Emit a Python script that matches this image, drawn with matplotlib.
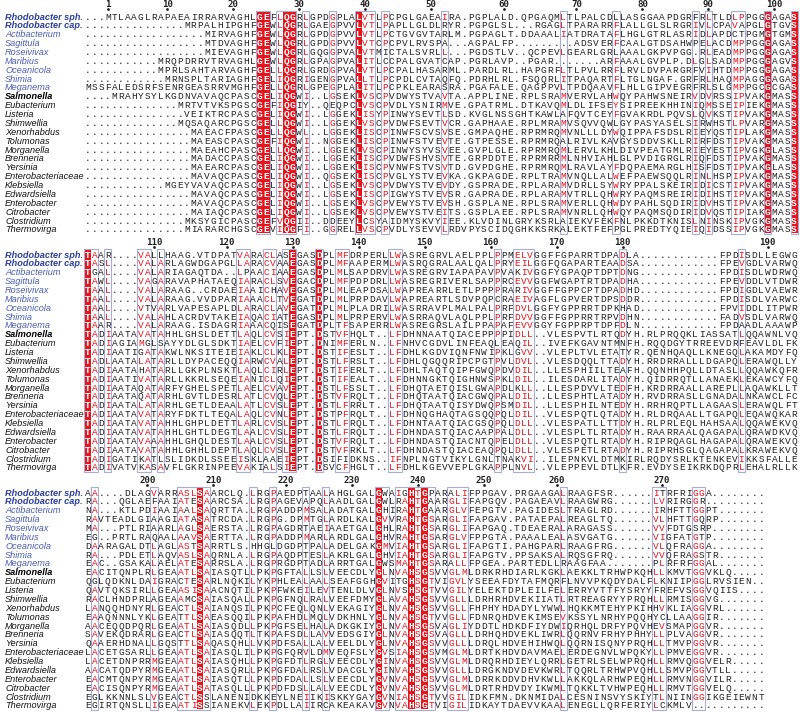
import matplotlib
matplotlib.use("Agg")
import matplotlib.pyplot as plt
from matplotlib.patches import Rectangle
from collections import Counter

names = ["Rhodobacter sph.", "Rhodobacter cap.", "Actibacterium", "Sagittula", "Roseivivax",
         "Maribius", "Oceanicola", "Shimia", "Meganema", "Salmonella", "Eubacterium",
         "Listeria", "Shimwellia", "Xenorhabdus", "Tolumonas", "Morganella", "Brenneria",
         "Yersinia", "Enterobacteriaceae", "Klebsiella", "Edwardsiella", "Enterobacter",
         "Citrobacter", "Clostridium", "Thermovirga"]

# alignment, block 1 (columns shown in the top panel)
block1 = [
    "...MTLAAGLRAPAEAIRRARVAGHLGEFLQGRLGPDGPLALVTLPCPGLGAEA" + "IRA.PGPLALD.QPGAQMLTLPALCDLLASGGAAPDGRFRLTLDLPPGGGAGAS",
    "." * 15 + "MRPALHIPGHFGEWLQGRLGAEGPVVLVTLPAPLLGLDL" + "RYR.PGPGLSL...RGAGLTPARARRFLALLGLSLRGRIVLCPAVAPGLGTGVS",
    "." * 18 + "MIRVAGHFGEWLQGRLGPDGPVVLVTLPCTGVGVTA" + "RLM.PGPAGLT.DDAAALIATDRATAFLHGLGTRLASRIDLAPDCTPGMGTGMS",
    "." * 18 + "MTDVAGHFGEWLQGRLGPDGPVVLVTCPCPVLRVSP" + "A...AGPALFP" + "." * 9 + "ADSVERFCAALGTDSAHWPELACDMPPGGGAGAS",
    "." * 18 + "MIEVAGHFGEWLQGRLGQGGPVALVTMICTALSVRL" + "L...PGDSTLV..QCPEVLGEARLGRLAAALGKPVPGG.RLEADMPPGGGAGAS",
    "." * 11 + "MRQPDRRVTRVAGHLGEWLQGRLGPAGPVALITLCCPALGVAT" + "CAP.PGRLAVP..PGAR" + "." * 7 + "ARFAAALGVPLP.DLGLSADMPPGGGAGVS",
    "." * 11 + "MPRLSAHTARVAGHFGELLQGRLGRDGPVALVTLPCPALHASA" + "RML.PARDLRL.HAPGRFLTLPVLRRFLRVLDVPARGRFVIHTDMPPGGGAGAS",
    "." * 12 + "MRNSPLTARIAGHFGELIQGRIGENGPVALLTLPCPDLCVTA" + "QFQ.PDRHLRL.FSQQRLITPAQARTFLTGLNGAF.GRFRLHAQMPAGGGAGAS",
    "MSSFALEDSRFSENRGEASRRVMGHFGELLQGRLGPEGPLALITLPCPKLEARA" + "SRA.PGAFALE.QAGPPVLTPDQAAVFLHLLGIPVEGRFRLSLGMPPGCGCGAS",
    "...." + "MRAHYSYLKGDNVAVAQCPASCGELIQGWI..LGSEKLVSCPVDWYSTVA" + "VTA.APPLINE.RPLSRAMVERVLAHWQYPAHWSNEIRVDVRSSIPVAKGMASS",
    "." * 14 + "MRTVTVKSPGSCGEFIQGIY..QEQPCLVSCPVDLYSNIR" + "MVE.GPATRML.DTKAVQMLDLIFSEYSIPREEKHHINIQMSSEIPIEKGMASS",
    "." * 15 + "VEIKTRCPASCGELIQGWI..LGGEKLISYPINWYSEVT" + "LSD.KVGLNSSGHTKAWLAFQVTCEYFGVAKRDLPQVSLQVKSTIPVAKGMASS",
    "." * 14 + "MQSAQARCPGSCGELLQGWI..LGGEKLVSCPVDWFSEVT" + "VCR.GAPHAAE.RPLMRAMVSQVVQWLGYPASYASELSIRWHSTLPVARGMASS",
    "." * 16 + "MAEACFPASCGELLQGWL..LGGEKLISCPINWFSCVS" + "VSE.GMPAQHE.RPRMRQMVNLLLDYWQIPPAFSDSLRIEYQSTIPLAKGMASS",
    "." * 16 + "MAEASCPASCGEFIQGWI..NGGEKLISCPINWFSTVE" + "VTE.GTPESSE.RPRMRQALRIVLKAVGYSDDVSKLLRIRFDSTIPVAKGMASS",
    "." * 16 + "MAEAHCPASCGELLQGWI..LGGEKLVSCPINWYSYVS" + "VEE.GVPLGLE.RPRMRQMLERVLKHLDIVPEATGMLRIEYESTIPVGKGLASS",
    "." * 16 + "MADACCPASCGELIQGWI..LGGEKLISCPVDWFSHVS" + "VTE.GRPDDTE.RPRMRRMLNHVIAHLGLPVDIGRGLRIQFDSTIPVAKGMASS",
    "." * 16 + "MAEARCPASCGELIQGWI..LGGEKLISCPVNWFSTVS" + "VTD.GVPDGHE.RPRMRQMLRAVLAYFDQPAEMARGLHISFDSTIPVAKGLASS",
    "." * 16 + "MAVAQCPASCGELIQGWI..QGSEKLISCPVGLYSTVE" + "VKA.GKPAGDE.RPLTRAMVNQLLALWEFPAEWSQQLRINLHSPIPVAKGMASS",
    "." * 12 + "MGEYVAVAQCPASCGELIQGWI..LGSEKLVSCPVDWYSTVE" + "VDY.GSPRADE.RPLARAMVDRLLSYWRYPPALSKEIRIDICSTIPVAKGMASS",
    "." * 16 + "MAVAQCPASCGELIQGWI..LGSEKLISCPIGWYSTVE" + "VSR.GAPRADE.RPLARAMVTRLLQHWRYPAQMSREIRIDIHSTIPVAKGMASS",
    "." * 16 + "MAVAQCPASCGELIQGWI..LGSEKLVSCPVEWYSTVE" + "VSH.GSPLANE.RPLSRAMVERLLQHWDYPAHLSQDIRIDVHSTIPVAKGMASS",
    "." * 16 + "MAIAQCPASCGELIQGWI..LGSEKLVSCPVEWYSTVE" + "ITS.GSPLAEE.RPLSRAMVNRLLQHWQYPAQMSQDIRIDVQSTIPIAKGMASS",
    "." * 15 + "MKSYGICPASCGEFVQGII..DDEEYLCSYAIDMYSKVY" + "IEE.KLVDINLGRYKSRLAIEKVFEKFNLPKKDTKNISLNINSKIPVGKGMASS",
    "." * 15 + "MIARARCHGSCGEVIQGFI..GGRELLVSCPVDLYSEVV" + "LRDVPYSCIDQGHKKSRKALEKTFEFPGLPREDTYQIEIQIDSSIPVGKGMASS",
]

# alignment, block 2 (middle panel)
block2 = [
    "TAAR....VALLHAAG.VTDPATVARACLASEGASDPLMFDRPERLLWASREGR" + "VLAELPPLPPMELVGGFFGPARRTDPADLA" + "." * 12 + "FPDISDLLEGWG",
    "TASL....VALARLAGWDGAPGLLARACVAAEGASDPLMFAAPERMLWASRQGR" + "ALAALQALPRYEILGGFQGAPARTEAADSA" + "." * 12 + "FPEVGDLVARWQ",
    "TGAL....VALARIAGAQTDA..LPAACIAAEGASDPLMLSAPDRVLWASREGR" + "VIAPAPAVPVAKIVGGFYGPAQPTDPTDNG" + "." * 12 + "FPDISDLWDRWQ",
    "TAWL....VAGARAVAPHATAEQIARACLSVEGACDPLMFPDPDRLLWASREGR" + "IVERLSAPPRCEVVGGFWGAPTRTDPADHA" + "." * 12 + "FPEVDDLVTDWR",
    "TAAL....VALARAAG..CRDAEIAAICHAVEGASDPLMLEAPDSALWAPREAR" + "RLETLPPPPRARIVGGFFGPPCPTDPADHD" + "." * 12 + "FPDIGDLVAEWR",
    "TAAL....VALARAAG.VVDPARIAAACLTVEGATDPLMLPRPDAVLWAPREAR" + "TLSDVPQPCRAEIVAGFLGPVERTDPSDDR" + "." * 12 + "FPDISDLVARWC",
    "TAAL....VTVARLVAPESAPLDLARACLAVEGATDPLMLPLADRILWASRRAV" + "PLMALPALPRFDVLGGFYGPPRRTDPKHAD" + "." * 12 + "FPVIDDLITPWR",
    "TAAL....VALAHLACRDVTAKEIAQACIATEGASDPLMLPRPERVLWASRRAQ" + "VLAQLPPLPRFDVVGGFFGPPRRTRPVDHN" + "." * 12 + "FADVSDLVARWQ",
    "TAAR....VALARAAG.ISDAGRIAAACQISEGATDPLTFSAPERRLWASREGR" + "SLAILPPAPAFEVVGGYFGPPRPTDPFDLN" + "." * 12 + "FPDAADLAAAWP",
    "TADIAATAVATAHHLGHSLDETTLAQLCVSIEPT.DSTVFHQLT..LFDHNNAA" + "TQIACEPPPPIDLL..VLESPVTLRTQDYH.RLPRQQKLIASSATLQQAWNLVQ",
    "TADIAGIAMGLSAYYDLGLSDKTIAELCVFIEPT.DNIMFERLN..LFNHVCGD" + "VLINFEAQLEAQIL..IVEFKGAVNTMNFH.RQQDGYTRREEVDRFEAVLDLFK",
    "TADIAATIGATAKWLNKSITEIEIAKLCLKLEPT.DSTIFESLT..LFDHLKGD" + "VIQNFNWIPKLGVV..VLEPLTVLETATYR.QENHQAQLLKNEGQLAKAMDYFQ",
    "TADLAATALATARLLDYPACEQQIARWCVALEPT.DSTLFRSLT..LFDHLQGQ" + "QRIPCPGTPVLDVL..VLESDQQLTTADYH.RRDRRALLLDGAPQLERAWQLLY",
    "TADIAATAHATARLLGKPLNSKTLAQLCIRLEPT.DSTIFERLT..LFDHLTAQ" + "TQIPFGWQPDVDIL..LLESPHIILTEAFH.QQNHHPQLLDTASLLQQAWKQFR",
    "TADIAATIVATARLLKKRLSEQEIANICLQIEPT.DSTIFEALT..LFDHNNGK" + "TQIGHNWSPKLDIL..ILESDARLITADYH.QIDRRQTLLANAEKLEKAWCYFQ",
    "TADIAATAQATARFYGHELSPETLAELCVAVEPT.DSTLFSSLT..LFDHQTAE" + "TQISLGWAPDLKLL..LLESPDVVLTEDFH.KRDRRAALLAREPLLAQAWKLLT",
    "TADIAATAQATARHLGVTLDESRLATLCVQLEPT.DSTVFRQLT..LFDHQTAA" + "TQIACGWQPALDIL..LLESPHTLATADYH.RVDRRASLLGNADALNKAWCLFC",
    "TADIAATALATARHLGETLDEAALATLCVSLEPT.DSTLFRRLT..LFDHQTAA" + "TQISYDWQPSMDIL..LLESPHILNTEDYH.RRHRQPTLLAGAASLERAWQLFT",
    "TADIAATAVATARYFDKTLTEQALAQLCVNLEPT.DSTPFRQLT..LFDHNQGH" + "AQTAGSQQPQLDIL..VLESPQTLQTADYH.RLDRQAALLTGAPQLEQAWQKAR",
    "TADIAATAVATAHHLGHPLDETTLARLCVSLEPT.DSTLFRQLT..LFDHNTAA" + "TQIACGSQPQLDLL..VLESPATLLTTDYH.RLPRLEQLHAHSAALQQAWEKVQ",
    "TADIAATAVATAHHLGHTLDEGTLAALCVSLEPT.DSTLFRQLT..LFDHNDAS" + "TQIACAAPPALDLL..VLESPLTLRTADYH.RAARRAALQAGAPALQRAWDKVQ",
    "TADIAATAVAAAHHLGHQLDESTLAALCVSLEPT.DSTVFRQLT..LFDHNDAS" + "TQIACNTQPELDLL..VLESPQTLRTADYH.RIPRQAGLHAGAPALQRAWEKVQ",
    "TADIAATAVATAHHLGHHLDEPTLAQLCVSLEPT.DSTVFRKLT..LFDHNDAS" + "TQIACEAQPQLDLL..VLESPETLRTADYH.RIPRHSGLQAGAPALKRAWEKVQ",
    "TADIGATIKATLSLIDKDLSSEEISKLAAEIEPT.DSIFIDKNS..IFNPLNGT" + "VIKYLGNLTNAKVI..ILEPNKVLDTMKIRLRQDYSRLKTENKEVIKKSFALLE",
    "TADIVATVKASAVFLGKRINPEEVAKIALSIEPT.DSVCFHGLT..LFDHLKGE" + "VVEPLGKAPPLNVL..VLEPPEVLDTLKFR.EVDYSEIKRKDQPRLEHALRLLK",
]

# alignment, block 3 (bottom panel)
block3 = [
    "AA....DLAGVARRASLSAARCLQ.LRGPAEDPTAALAHGLGALGWAIGHTGPA" + "RALIFPPGAV.PRGAAGALRAAGFSR" + "." * 6 + "ITRFRIGGA" + "." * 8,
    "RA...QGLAEFAAIATESAARCSA.LRGPAGEVAPQLAADLGALGWLRAHTGAA" + "RGLIFAPGQV.PAGAEAVLRAAGWRG" + "." * 6 + "LVRIRGGR" + "." * 9,
    "NA...KTLPDIAAIAALSAQRTTA.LRGPADDPMSALADATGALGHIRAHTGAA" + "RGLVFEPGTV.PAGIDESLTRAGLRD" + "." * 6 + "IRHFTTGGPT" + "." * 7,
    "RAVTEADLGIAAGIATASATRCDA.LRGPG.DPMTGLARDLKALGVVRAHTGSA" + "RGLIFAPGAV.PATAEPALREAGLTQ" + "." * 6 + "VLHFTTGQRP" + "." * 7,
    "MA...PTLRIAARLAGLSAERSTA.LRGPAGDRTAEIAAETGALGHLRAHTGSA" + "RGLIFAPGAQ.TDEAERALARAGASS" + "." * 6 + "VVFDTGSRP" + "." * 8,
    "EG..PRTLRAQAALAAVSAERTTA.LRGPADDPMARLARDLGALGHVRAHTGSA" + "RGLVFPPGTA.PAAALEALASVGATG" + "." * 6 + "VIGFATGTP" + "." * 8,
    "DAARAGALDTLAGLASTSARRTLS.HHGLDGDPTPALADELGAKGMVIAHTGSA" + "RGLIFAPGTI.PAHGPARLRAAGFRG" + "." * 6 + "VLQFRAGGA" + "." * 8,
    "RA...PDLETLAQVASLSAQRNLA.LRGPAQDPTESLAKRLGALGHVIAHTGSA" + "RGLIFAPGTV.PPSAKSALRQSGFRQ" + "." * 6 + "VVQFRAGSTR" + "." * 7,
    "EAC..GSAKALAELATESARRSLA.LRGPRGDPTADLARRTGALGWSMAHTGSA" + "RALLFPGEA.PARTEDLLRAAGFAA" + "." * 7 + "PLRFRFGGAL" + "." * 7,
    "EACITQNPLRLGEAATLSAIASQTLLPKPGFTALLSLVEECDLYGLNVAHSGSV" + "VGLMLDRKRHDIARLKGKLAEKKLTRHWPKQHLLKMVTGGVKLQ" + "." * 5,
    "QGLQDKNLDAIGRACTESARLNQKILYKPHLEALAALSEAFGGHGVITGHSGTV" + "IGVLYSEEAFDYTAFMQRFLNVVPKQDYDALFLKNIIPGGLRVSIEN" + "." * 2,
    "QAVTQKSIRLLGEAASISAACNQTILPKPFWKEILEVTENLDLVGLNVSHSGTV" + "VGILYELEKTDPLEILFELERRYVTTFYSRYYFREFVSGGVQIIS" + "." * 4,
    "RACLHNDPRLAGEAAMCSAIASQALLPKPGFNQLRALVEEFDMYGLAVAHSGSV" + "VGLLLDRHRHDVEKIIATLRTREAGRYYPRQHLLRMISGGVG" + "." * 7,
    "LANQQHDNYRLGEACTLSAIANQSILPKPCFEQLQNLVEKAGIYGLNVAHSGSV" + "VGLLFHPHYHDADYLYWWLHQKKMTEHYPKIHHVKLIAGGVRL" + "." * 6,
    "EAAQNNNLYKLGEATTLSAEASQQILPKPAFHDLMQLVDKHNLYGLNVAHSGTV" + "VGLLFDNRQHDVEKIMSEVKSSYLNRHYPQQHYCLLAAGGIR" + "." * 7,
    "AACEQQDPQRLGEAATLSAIASQDLLPKPGFSELHALADKGKIYGLNVAHSGSV" + "AGLIYDDTLHDKDFIYDWIQRHQLDRFYPQVHEVSMAPGGVR" + "." * 7,
    "SAVEKQDRARLGEACTLSAIASQQTLTKPAFSDLLAVVEDSGIYGLNVAHSGSV" + "AGLLLDRHQHDVEKLIWRLQQRNVFRHYPHHYLLPLVAGGVR" + "." * 7,
    "QAAERHDNALLGQSTTLSAQASQHLLVKPDFSALLALVEELDLYGLNVAHSGSV" + "VGLLLDRQLHDVEHIHWQLQQRNISQNYPRQHLLTMVPGGVR" + "." * 7,
    "LACETGSARLLGEAATLSAIASQLILPKPGFQRVLDMVEQFSLYGVSIAHSGSV" + "MGLMLDRTKHDVDAVMAELERDEGNVLWPQKYLLPMVEGGVR" + "." * 7,
    "LACETDNPRRMGEAATLSAIASQHLLPKPGFDTLRGLVEECDLYGINVAHSGSV" + "VGLMLDRQRHDIEYLQRRLGETRLSELWPRQHLLRMVQGGVELR" + "." * 5,
    "AACATQDPYRMGEAATLSAIASQRLLPKPGFDALRSLVDACGLYGINVAHSGSV" + "VGLLLDRGKNDVDEVKWRLTQQRLTRHWPVQHLLSMVPGGVTLL" + "." * 5,
    "EACMTQNPYRMGEAATLSAIASQTLLPKPDFDALLSLVEECDLYGVNVAHSGSV" + "VGLMLDRRKDDVDHVKWLLAKKQLARHWPEQHLLRMVNGGVILR" + "." * 5,
    "EACISQNPYRMGEAATLSATASQLLLPKPDFDSLLALVEECDLYGVNVAHSGSV" + "VGLMLDRTRHDVDYIKWMLTQKKLTVHWPEQHLLRMVTGGVELQ" + "." * 5,
    "EGLKKNNLSLVGEACTLSSLANENIDKKEYLNEIIKISKKYGAYGVNIAHSGTV" + "VGILIDKFMN.DKNMIDALCESNINSVYSKIYTLNIINGGIKGEIEWNT",
    "EGIRTQNSLLIGEAATISSIANEKVLEKPDLLAIIRCAKEAKAVGVNVAHSGTV" + "IGILIDKAYTDAEVVKAALENEGLLQRFERIYLCKMLV" + "." * 11,
]

blocks = [block1, block2, block3]

RED = "#e3161e"
BOX = "#a7acd8"
DARK_BLUE = "#2c3e9b"
BLUE = "#4a5db5"

groups = ["ILVM", "FYW", "KR", "DE", "NQ", "ST", "A", "G", "P", "C", "H"]
group_of = {c: i for i, g in enumerate(groups) for c in g}

W, H = 800, 712
x0, cw, rh = 84.7, 6.6, 8.87
block_top = [16, 254, 492]

fig = plt.figure(figsize=(W / 100, H / 100), dpi=100)
ax = fig.add_axes([0, 0, 1, 1])
ax.set_xlim(0, W)
ax.set_ylim(H, 0)
ax.axis("off")


def column_state(col):
    res = [c for c in col if c != "."]
    if len(res) == len(col) and len(set(res)) == 1:
        return "ident", set(res)
    if not res:
        return None, set()
    g, n = Counter(group_of.get(c, -1) for c in res).most_common(1)[0]
    if g >= 0 and n / len(col) >= 0.7:
        return "sim", set(groups[g])
    return None, set()


residue_no = 0
for b, seqs in enumerate(blocks):
    top = block_top[b]
    ncol = max(len(s) for s in seqs)
    seqs = [s.ljust(ncol, ".") for s in seqs]
    nrow = len(seqs)
    y_first = top - rh / 2
    states = [column_state([s[j] for s in seqs]) for j in range(ncol)]

    # identical columns: red background
    for j, (st, _) in enumerate(states):
        if st == "ident":
            ax.add_patch(Rectangle((x0 + j * cw, y_first), cw, nrow * rh,
                                   facecolor=RED, edgecolor="none", zorder=1))
    # boxes around runs of conserved columns
    j = 0
    while j < ncol:
        if states[j][0] is None:
            j += 1
            continue
        k = j
        while k + 1 < ncol and states[k + 1][0] is not None:
            k += 1
        ax.add_patch(Rectangle((x0 + j * cw - 0.3, y_first - 0.3), (k - j + 1) * cw + 0.6,
                               nrow * rh + 0.6, fill=False, edgecolor=BOX, lw=0.8, zorder=2))
        j = k + 1

    # residues
    for i, s in enumerate(seqs):
        y = top + i * rh
        for j, c in enumerate(s):
            st, grp = states[j]
            if st == "ident":
                color, weight = "white", "bold"
            elif st == "sim" and c in grp:
                color, weight = RED, "normal"
            else:
                color, weight = "#222222", "normal"
            ax.text(x0 + (j + 0.5) * cw, y, c, ha="center", va="center_baseline",
                    fontsize=6.8, family="Liberation Mono", color=color,
                    fontweight=weight, zorder=3)

    # names
    for i, name in enumerate(names):
        y = top + i * rh
        if i < 2:
            color, weight = DARK_BLUE, "bold"
        elif i < 9:
            color, weight = BLUE, "normal"
        elif i == 9:
            color, weight = "black", "bold"
        else:
            color, weight = "#111111", "normal"
        ax.text(5, y, name, ha="left", va="center_baseline", fontsize=6.6,
                family="Liberation Sans", style="italic", fontweight=weight, color=color)

    # ruler numbered by the first sequence
    for j, c in enumerate(seqs[0]):
        if c == ".":
            continue
        residue_no += 1
        if residue_no == 1 or residue_no % 10 == 0:
            xc = x0 + (j + 0.5) * cw
            ax.text(xc, top - 11.5, str(residue_no), ha="center", va="center",
                    fontsize=6.6, family="DejaVu Sans Mono", fontweight="bold", color="#222222")
            ax.plot([xc], [top - 6.8], marker="o", ms=1.0, color="#222222")

fig.savefig("out.png", dpi=100)
